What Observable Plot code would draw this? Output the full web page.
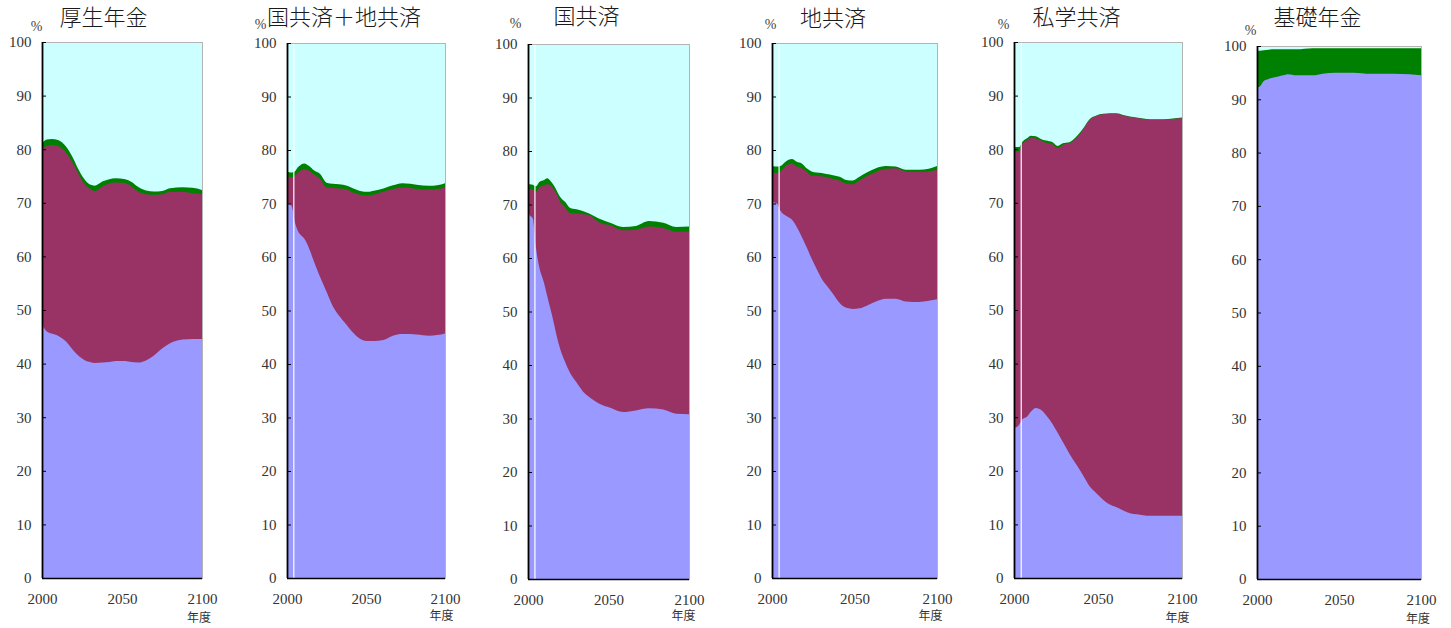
<!DOCTYPE html>
<html><head><meta charset="utf-8">
<script src="https://cdn.jsdelivr.net/npm/d3@7"></script>
<script src="https://cdn.jsdelivr.net/npm/@observablehq/plot@0.6"></script>
<style>
body{margin:0;background:#fff;width:1451px;height:628px;position:relative;overflow:hidden}
.panel{position:absolute;top:0}
.panel svg{max-width:none !important}
</style></head><body>
<div id="root"></div>
<script>
// ---- shared tick labels / units ----
const yTicks = [0, 10, 20, 30, 40, 50, 60, 70, 80, 90, 100];
const xTicks = [2000, 2050, 2100];
const xUnit = "年度";
const yUnit = "%";
const TOTAL = 100;
const COLORS = {blue: "#9999FF", maroon: "#993366", green: "#008000", rest: "#CCFFFF"};

// ---- 厚生年金 (cumulative upper edges of each layer, %) ----
const koseiYears  = [2000,2003,2006,2010,2015,2020,2023,2027,2030,2033,2038,2042,2046,2052,2056,2060,2065,2070,2075,2080,2088,2094,2100];
const koseiBlue   = [47.2,46.0,45.6,45.2,44.1,42.3,41.4,40.6,40.3,40.1,40.2,40.3,40.5,40.5,40.3,40.2,40.6,41.5,42.8,43.8,44.5,44.6,44.6];
const koseiMaroon = [80.2,80.6,80.8,80.6,79.4,77.0,75.3,73.3,72.6,72.2,73.1,73.6,73.8,73.7,73.0,72.1,71.6,71.5,71.6,72.0,72.0,71.8,71.6];
const koseiGreen  = [81.1,81.8,81.9,81.7,80.5,78.0,76.1,74.2,73.4,73.2,74.0,74.4,74.6,74.4,73.9,73.0,72.3,72.1,72.2,72.7,72.9,72.8,72.4];
const koseiGaps   = [];

// ---- 国共済＋地共済 ----
const kyoYears  = [2000,2001,2003,2005,2007,2009,2011,2014,2017,2021,2025,2029,2033,2038,2042,2047,2051,2055,2061,2067,2073,2078,2082,2090,2095,2100];
const kyoBlue   = [70.0,70.0,69.5,66.5,64.8,64.0,63.4,61.6,59.2,56.2,53.5,50.8,49.0,47.2,45.8,44.6,44.3,44.3,44.5,45.3,45.6,45.6,45.5,45.3,45.4,45.7];
const kyoMaroon = [75.2,75.0,74.9,75.2,75.8,76.2,76.4,76.1,75.4,74.6,73.0,72.9,72.8,72.6,72.0,71.6,71.5,71.7,72.2,72.7,73.0,72.9,72.7,72.6,72.7,73.0];
const kyoGreen  = [76.0,75.9,75.8,76.0,76.8,77.3,77.5,77.0,76.2,75.5,73.9,73.7,73.6,73.3,72.8,72.3,72.2,72.4,72.8,73.4,73.8,73.7,73.5,73.3,73.4,73.8];
const kyoGaps   = [2004];

// ---- 国共済 ----
const kokuYears  = [2000,2001,2003,2005,2007,2010,2012,2014,2016,2018,2020,2023,2026,2030,2034,2038,2044,2051,2059,2067,2075,2084,2092,2100];
const kokuBlue   = [68.3,68.0,67.4,61.8,58.3,55.3,52.8,50.4,47.9,45.2,43.0,40.6,38.6,36.8,35.1,34.0,32.8,32.0,31.2,31.5,31.9,31.7,30.9,30.8];
const kokuMaroon = [73.0,72.9,72.8,72.4,73.2,73.6,73.8,73.6,72.8,71.8,70.5,69.5,68.4,68.3,68.2,68.0,66.7,66.1,65.2,65.3,65.9,65.6,64.9,64.9];
const kokuGreen  = [73.9,73.8,73.7,73.4,74.2,74.6,74.9,74.4,73.6,72.5,71.4,70.5,69.4,69.1,68.8,68.3,67.4,66.6,65.8,66.0,66.9,66.6,65.8,65.9];
const kokuGaps   = [2004];

// ---- 地共済 ----
const chiYears  = [2000,2002,2003,2005,2009,2012,2015,2018,2021,2024,2027,2030,2033,2037,2041,2045,2049,2053,2058,2063,2069,2075,2081,2089,2095,2100];
const chiBlue   = [70.4,70.1,70.0,68.7,67.6,67.0,65.6,63.8,61.8,59.7,57.8,56.0,54.7,53.1,51.4,50.5,50.3,50.4,51.0,51.7,52.2,52.2,51.7,51.6,51.8,52.1];
const chiMaroon = [75.8,75.7,75.7,76.0,77.2,77.5,76.9,76.6,76.0,75.2,75.2,75.1,74.9,74.6,74.3,73.7,73.6,74.3,75.2,75.9,76.5,76.6,76.0,75.9,76.0,76.3];
const chiGreen  = [77.0,76.9,76.9,77.0,78.0,78.3,77.8,77.5,76.6,76.0,75.8,75.7,75.5,75.3,75.0,74.4,74.3,75.0,75.9,76.6,77.0,76.9,76.3,76.3,76.5,77.0];
const chiGaps   = [2004];

// ---- 私学共済 ----
const shiYears  = [2000,2001,2003,2005,2008,2010,2013,2016,2019,2023,2026,2029,2033,2037,2041,2045,2049,2053,2057,2061,2065,2069,2073,2081,2089,2100];
const shiBlue   = [28.4,28.1,28.6,29.6,30.2,31.0,31.7,31.4,30.4,28.7,27.1,25.4,23.2,21.2,19.2,17.1,15.8,14.6,13.7,13.2,12.6,12.1,11.9,11.6,11.6,11.6];
const shiMaroon = [80.2,79.6,79.6,81.0,81.7,82.2,82.0,81.6,81.2,80.9,80.2,80.8,81.1,82.0,83.6,85.5,86.2,86.5,86.6,86.6,86.3,86.0,85.8,85.5,85.5,85.8];
const shiGreen  = [80.5,80.4,80.4,81.4,82.1,82.5,82.4,81.9,81.6,81.3,80.6,81.1,81.3,82.3,83.8,85.6,86.3,86.6,86.7,86.7,86.4,86.1,85.9,85.6,85.6,85.9];
const shiGaps   = [2004];

// ---- 基礎年金 ----
const kisoYears = [2000,2002,2004,2007,2010,2013,2016,2019,2024,2034,2040,2048,2059,2069,2083,2093,2100];
const kisoBlue  = [92.2,92.5,93.4,93.8,94.1,94.3,94.5,94.7,94.5,94.5,94.8,95.0,95.0,94.8,94.8,94.7,94.5];
const kisoGreen = [99.1,99.1,99.2,99.3,99.4,99.4,99.4,99.4,99.4,99.6,99.6,99.6,99.6,99.6,99.6,99.6,99.6];
const kisoGaps  = [];

const panels = [
  {title: "厚生年金", years: koseiYears, blue: koseiBlue, maroon: koseiMaroon, green: koseiGreen, gaps: koseiGaps},
  {title: "国共済＋地共済", years: kyoYears, blue: kyoBlue, maroon: kyoMaroon, green: kyoGreen, gaps: kyoGaps},
  {title: "国共済", years: kokuYears, blue: kokuBlue, maroon: kokuMaroon, green: kokuGreen, gaps: kokuGaps},
  {title: "地共済", years: chiYears, blue: chiBlue, maroon: chiMaroon, green: chiGreen, gaps: chiGaps},
  {title: "私学共済", years: shiYears, blue: shiBlue, maroon: shiMaroon, green: shiGreen, gaps: shiGaps},
  {title: "基礎年金", years: kisoYears, blue: kisoBlue, maroon: null, green: kisoGreen, gaps: kisoGaps}
];

// ---- layout (pixels) ----
const layout = [
  {l: 42,   r: 202,  t: 42, b: 578, title: [103, 17],    pct: [36, 26],   unit: [198.5, 617.5]},
  {l: 287,  r: 445,  t: 43, b: 578, title: [343.5, 17],  pct: [260, 24],  unit: [441, 615.5]},
  {l: 528,  r: 689,  t: 44, b: 579, title: [586, 16.5],  pct: [515, 23],  unit: [683, 615.5]},
  {l: 772,  r: 937,  t: 43, b: 578, title: [832.5, 18],  pct: [770, 24],  unit: [930, 615.5]},
  {l: 1014, r: 1182, t: 42, b: 578, title: [1076, 17],   pct: [1003, 24], unit: [1177, 617.5]},
  {l: 1257, r: 1421, t: 46, b: 579, title: [1317, 17],   pct: [1250, 30], unit: [1417.5, 618.5]}
];

const ML = 42, MR = 28, H = 628;
const curve = "monotone-x";
const serif = "'Liberation Serif', 'DejaVu Serif', serif";
const cjk = "'Noto Sans CJK JP', 'Noto Sans', sans-serif";
const root = document.getElementById("root");

panels.forEach((P, i) => {
  const L = layout[i];
  const rows = P.years.map((year, j) => ({
    year, total: TOTAL, green: P.green[j], maroon: P.maroon ? P.maroon[j] : null, blue: P.blue[j]
  }));
  const plotW = L.r - L.l;
  const cx = (L.l + L.r) / 2;
  const marks = [
    Plot.areaY(rows, {x: "year", y: "total", fill: COLORS.rest, curve}),
    Plot.areaY(rows, {x: "year", y: "green", fill: COLORS.green, curve}),
    ...(P.maroon ? [Plot.areaY(rows, {x: "year", y: "maroon", fill: COLORS.maroon, curve})] : []),
    Plot.areaY(rows, {x: "year", y: "blue", fill: COLORS.blue, curve}),
    Plot.ruleX(P.gaps, {stroke: "white", strokeWidth: 1.2}),
    Plot.frame({stroke: "#b4b4b4"}),
    Plot.ruleY([yTicks[0]], {stroke: "#000", strokeWidth: 1.6}),
    Plot.ruleX([xTicks[0]], {stroke: "#000", strokeWidth: 1.8}),
    Plot.tickY(yTicks, {y: d => d, stroke: "#000", insetRight: plotW - 4}),
    Plot.axisY({ticks: yTicks, tickSize: 0, tickPadding: 11, fontSize: 15, fontFamily: serif, label: null}),
    Plot.axisX({ticks: xTicks, tickSize: 0, tickPadding: 15, tickFormat: d => String(d), fontSize: 15, fontFamily: serif, label: null}),
    Plot.text([P.title], {frameAnchor: "top", textAnchor: "middle", lineAnchor: "middle",
      dx: L.title[0] - cx, dy: L.title[1] - L.t, fontSize: 22, fontFamily: cjk, fontWeight: 300, fill: "#1a1a1a"}),
    Plot.text([yUnit], {frameAnchor: "top-left", textAnchor: "middle", lineAnchor: "middle",
      dx: L.pct[0] - L.l, dy: L.pct[1] - L.t, fontSize: 14, fontFamily: serif, fill: "#444"}),
    Plot.text([xUnit], {frameAnchor: "bottom-right", textAnchor: "middle", lineAnchor: "middle",
      dx: L.unit[0] - L.r, dy: L.unit[1] - L.b, fontSize: 12, fontFamily: cjk, fill: "#333"})
  ];
  const svg = Plot.plot({
    width: plotW + ML + MR,
    height: H,
    marginLeft: ML, marginRight: MR, marginTop: L.t, marginBottom: H - L.b,
    x: {domain: [xTicks[0], xTicks[xTicks.length - 1]], axis: null, label: null},
    y: {domain: [yTicks[0], yTicks[yTicks.length - 1]], axis: null, label: null},
    style: {background: "none", overflow: "visible", color: "#333", fontFamily: serif, maxWidth: "none"},
    marks
  });
  const wrap = document.createElement("div");
  wrap.className = "panel";
  wrap.style.left = (L.l - ML) + "px";
  wrap.style.width = (plotW + ML + MR) + "px";
  wrap.appendChild(svg);
  root.appendChild(wrap);
});
</script>
</body></html>
